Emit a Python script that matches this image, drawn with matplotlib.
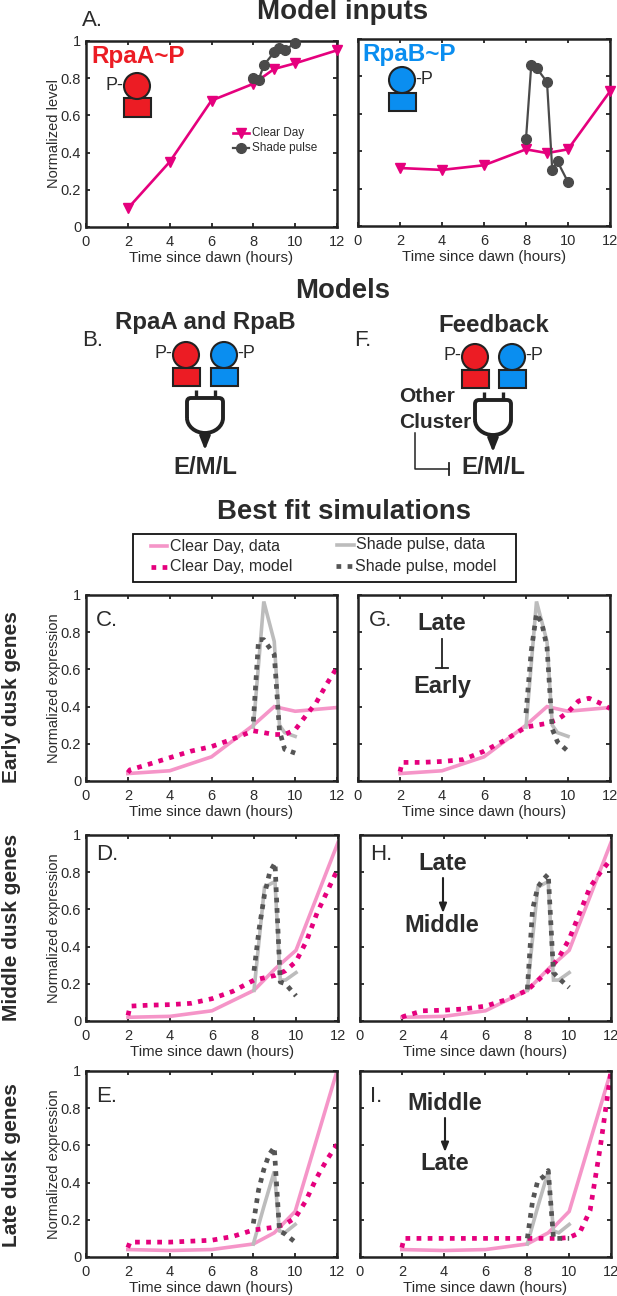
"""Model inputs, model diagrams and best fit simulations for dusk gene clusters."""
import matplotlib
matplotlib.use("Agg")
import matplotlib.pyplot as plt
from matplotlib.patches import Circle, PathPatch, Rectangle
from matplotlib.path import Path

plt.rcParams["font.family"] = ["Liberation Sans", "DejaVu Sans"]

W, H = 617, 1296
INK = "#222222"
TXT = "#2b2b2b"
RED = "#ec1c24"
BLUE = "#0a8ef0"
PINK = "#f595c8"
MAGENTA = "#e5007d"
GREY = "#bcbcbc"
DARK = "#555555"

# ── Model inputs ──────────────────────────────────────────────────────────────
clear_t = [2, 4, 6, 8, 9, 10, 12]
pulse_t = [8, 8.25, 8.5, 9, 9.25, 9.5, 10]
rpaa_clear = [0.10, 0.35, 0.68, 0.77, 0.85, 0.88, 0.95]
rpaa_pulse = [0.80, 0.79, 0.87, 0.94, 0.96, 0.95, 0.99]
rpab_clear = [0.31, 0.30, 0.325, 0.41, 0.39, 0.41, 0.72]
rpab_pulse = [0.465, 0.86, 0.845, 0.77, 0.30, 0.345, 0.235]

# ── Measured expression ───────────────────────────────────────────────────────
pulse_data_t = [8, 8.5, 9, 9.25, 9.5, 10]
early_clear = [0.04, 0.055, 0.13, 0.30, 0.40, 0.375, 0.395]
early_pulse = [0.29, 0.965, 0.75, 0.30, 0.26, 0.24]
middle_clear = [0.02, 0.025, 0.055, 0.165, 0.28, 0.38, 0.96]
middle_pulse = [0.165, 0.72, 0.75, 0.22, 0.22, 0.26]
late_clear = [0.04, 0.035, 0.04, 0.07, 0.13, 0.245, 1.0]
late_pulse = [0.07, 0.27, 0.46, 0.14, 0.13, 0.175]

# ── Simulated expression ──────────────────────────────────────────────────────
model_t = [2, 2.1, 3, 4, 5, 6, 7, 8, 9, 9.5, 10, 10.5, 11, 11.5, 12]
model_pulse_t = [8, 8.25, 8.5, 8.75, 9, 9.25, 9.5, 10]
c_model = [0.045, 0.06, 0.09, 0.125, 0.16, 0.185, 0.225, 0.27, 0.25, 0.25, 0.275, 0.35, 0.42, 0.52, 0.61]
c_pulse = [0.32, 0.76, 0.76, 0.72, 0.68, 0.27, 0.17, 0.15]
g_model = [0.05, 0.10, 0.10, 0.105, 0.115, 0.16, 0.22, 0.29, 0.31, 0.33, 0.37, 0.43, 0.445, 0.42, 0.39]
g_pulse = [0.365, 0.70, 0.90, 0.85, 0.72, 0.28, 0.21, 0.16]
d_model = [0.03, 0.08, 0.085, 0.088, 0.095, 0.12, 0.16, 0.22, 0.245, 0.27, 0.32, 0.43, 0.58, 0.70, 0.82]
d_pulse = [0.27, 0.50, 0.68, 0.80, 0.85, 0.21, 0.20, 0.135]
h_model = [0.02, 0.025, 0.055, 0.058, 0.065, 0.08, 0.115, 0.165, 0.27, 0.34, 0.44, 0.58, 0.72, 0.80, 0.87]
h_pulse = [0.17, 0.60, 0.72, 0.76, 0.79, 0.26, 0.23, 0.18]
e_model = [0.05, 0.08, 0.08, 0.08, 0.085, 0.09, 0.11, 0.145, 0.16, 0.175, 0.21, 0.30, 0.42, 0.52, 0.605]
e_pulse = [0.18, 0.36, 0.47, 0.55, 0.59, 0.14, 0.125, 0.08]
i_model = [0.05, 0.10, 0.10, 0.10, 0.10, 0.10, 0.10, 0.10, 0.10, 0.10, 0.105, 0.13, 0.25, 0.60, 1.0]
i_pulse = [0.10, 0.30, 0.41, 0.43, 0.465, 0.10, 0.10, 0.10]

x_ticks = [0, 2, 4, 6, 8, 10, 12]
y_ticks = [0, 0.2, 0.4, 0.6, 0.8, 1]
y_tick_labels = ["0", "0.2", "0.4", "0.6", "0.8", "1"]

fig = plt.figure(figsize=(W / 100, H / 100), dpi=100)


def make_axes(left, top, right, bottom, ylabel=None):
    ax = fig.add_axes([left / W, 1 - bottom / H, (right - left) / W, (bottom - top) / H])
    ax.set_xlim(0, 12)
    ax.set_ylim(0, 1)
    ax.set_xticks(x_ticks)
    ax.set_yticks(y_ticks)
    ax.set_yticklabels(y_tick_labels if ylabel else [])
    ax.tick_params(direction="in", top=True, right=True, length=3, width=1.3, color=INK,
                   labelsize=10.5, labelcolor=TXT)
    ax.tick_params(axis="x", pad=5.5)
    ax.tick_params(axis="y", pad=3.5)
    for spine in ax.spines.values():
        spine.set_linewidth(1.8)
        spine.set_color(INK)
    ax.set_xlabel("Time since dawn (hours)", fontsize=10.8, color=TXT, labelpad=2)
    if ylabel:
        ax.set_ylabel(ylabel, fontsize=10.5, color=TXT, labelpad=0)
    return ax


def fit_panel(box, ylabel, clear, pulse, model, model_pulse):
    ax = make_axes(*box, ylabel=ylabel)
    ax.plot(clear_t, clear, color=PINK, lw=2.6, solid_joinstyle="miter")
    ax.plot(pulse_data_t, pulse, color=GREY, lw=2.6, solid_joinstyle="miter")
    ax.plot(model_t, model, color=MAGENTA, lw=3.4, ls=(0, (1, 1.35)))
    ax.plot(model_pulse_t, model_pulse, color=DARK, lw=3.4, ls=(0, (1, 1.2)))
    return ax


# ── Panel A ───────────────────────────────────────────────────────────────────
ax_a = make_axes(86, 41, 337, 227, ylabel="Normalized level")
ax_a.plot(clear_t, rpaa_clear, color=MAGENTA, lw=1.9, marker="v", ms=7, clip_on=False, zorder=3)
ax_a.plot(pulse_t, rpaa_pulse, color="#4a4a4a", lw=1.6, marker="o", ms=7, clip_on=False, zorder=4)
ax_b = make_axes(358, 39, 610, 226)
ax_b.plot(clear_t, rpab_clear, color=MAGENTA, lw=1.9, marker="v", ms=7, clip_on=False, zorder=3)
ax_b.plot(pulse_t, rpab_pulse, color="#4a4a4a", lw=1.6, marker="o", ms=7, clip_on=False, zorder=4)

# ── Simulation panels ─────────────────────────────────────────────────────────
fit_panel((86, 595, 337, 781), "Normalized expression", early_clear, early_pulse, c_model, c_pulse)
fit_panel((358, 595, 610, 781), None, early_clear, early_pulse, g_model, g_pulse)
fit_panel((86, 835, 338, 1021), "Normalized expression", middle_clear, middle_pulse, d_model, d_pulse)
fit_panel((360, 835, 611, 1021), None, middle_clear, middle_pulse, h_model, h_pulse)
fit_panel((86, 1071, 337, 1257), "Normalized expression", late_clear, late_pulse, e_model, e_pulse)
fit_panel((360, 1071, 611, 1257), None, late_clear, late_pulse, i_model, i_pulse)

# ── Overlay in pixel coordinates for text and diagrams ────────────────────────
ov = fig.add_axes([0, 0, 1, 1], zorder=10)
ov.set_xlim(0, W)
ov.set_ylim(H, 0)
ov.axis("off")
ov.patch.set_alpha(0)


def label(x, y, s, size=14, weight="normal", color=TXT, ha="center", **kw):
    ov.text(x, y, s, fontsize=size, fontweight=weight, color=color, ha=ha, va="center", **kw)


def protein(cx, cy, color, side=None, r=13, rect_top=13, rect_h=18):
    ov.add_patch(Rectangle((cx - 13.5, cy + rect_top), 27, rect_h, fc=color, ec=INK, lw=1.5))
    ov.add_patch(Circle((cx, cy), r, fc=color, ec=INK, lw=1.5, zorder=3))
    if side == "left":
        label(cx - r - 0.5, cy - 1, "P-", size=13, ha="right")
    elif side == "right":
        label(cx + r + 0.5, cy - 1, "-P", size=13, ha="left")


def and_gate(cx, top):
    for dx in (-9.5, 9.5):
        ov.plot([cx + dx, cx + dx], [top - 8, top], color=INK, lw=2.4, solid_capstyle="butt")
    verts = [
        (cx - 18, top + 20), (cx - 18, top + 4), (cx - 18, top), (cx - 14, top),
        (cx + 14, top), (cx + 18, top), (cx + 18, top + 4), (cx + 18, top + 20),
        (cx + 18, top + 28), (cx + 10, top + 35), (cx, top + 35),
        (cx - 10, top + 35), (cx - 18, top + 28), (cx - 18, top + 20),
    ]
    codes = [Path.MOVETO, Path.LINETO, Path.CURVE3, Path.CURVE3, Path.LINETO, Path.CURVE3, Path.CURVE3,
             Path.LINETO, Path.CURVE4, Path.CURVE4, Path.CURVE4, Path.CURVE4, Path.CURVE4, Path.CURVE4]
    ov.add_patch(PathPatch(Path(verts, codes), fc="none", ec=INK, lw=2.8))
    ov.annotate("", xy=(cx, top + 52), xytext=(cx, top + 35),
                arrowprops=dict(arrowstyle="-|>,head_width=0.32,head_length=0.8", color=INK, lw=2, shrinkA=0, shrinkB=0))


def down_arrow(x, y0, y1):
    ov.annotate("", xy=(x, y1), xytext=(x, y0),
                arrowprops=dict(arrowstyle="-|>,head_width=0.22,head_length=0.55", color=INK, lw=1.5, shrinkA=0, shrinkB=0))


label(343, 12, "Model inputs", size=20, weight="bold")
label(343, 291, "Models", size=19.8, weight="bold")
label(344, 512, "Best fit simulations", size=19.8, weight="bold")
label(82, 20, "A.", size=16, ha="left")
label(82, 340, "B.", size=16, ha="left")
label(354, 340, "F.", size=16, ha="left")
label(96, 620, "C.", size=16, ha="left")
label(369, 620, "G.", size=16, ha="left")
label(96, 855, "D.", size=16, ha="left")
label(370, 855, "H.", size=16, ha="left")
label(96, 1096, "E.", size=16, ha="left")
label(370, 1096, "I.", size=16, ha="left")

# input panel insets
label(91, 57, "RpaA~P", size=17.5, weight="bold", color=RED, ha="left")
label(362, 55, "RpaB~P", size=17.5, weight="bold", color=BLUE, ha="left")
protein(137, 86, RED, side="left", rect_top=12, rect_h=19)
protein(402, 80, BLUE, side="right", rect_top=13, rect_h=18)
ov.plot([233, 249], [133, 133], color=MAGENTA, lw=1.9)
ov.plot([241], [133], color=MAGENTA, marker="v", ms=7)
ov.plot([233, 249], [148, 148], color="#4a4a4a", lw=1.6)
ov.plot([241], [148], color="#4a4a4a", marker="o", ms=7)
label(252, 133, "Clear Day", size=8.5, ha="left")
label(252, 148, "Shade pulse", size=8.5, ha="left")

# model diagrams
label(205, 322, "RpaA and RpaB", size=17.3, weight="bold")
protein(186, 355, RED, side="left")
protein(224, 355, BLUE, side="right")
and_gate(205, 398)
label(205, 467, "E/M/L", size=17.3, weight="bold")

label(494, 325, "Feedback", size=17.3, weight="bold")
protein(475, 357, RED, side="left")
protein(512, 357, BLUE, side="right")
and_gate(493, 400)
label(493, 468, "E/M/L", size=17.3, weight="bold")
label(399, 397, "Other", size=15, weight="bold", ha="left")
label(399, 422, "Cluster", size=15, weight="bold", ha="left")
ov.plot([415, 415, 449], [433, 469, 469], color=INK, lw=1.1)
ov.plot([449, 449], [463, 475], color=INK, lw=1.3)

# legend box
ov.add_patch(Rectangle((133, 534), 383, 48, fc="white", ec="#111111", lw=1.3))
ov.plot([151, 167], [546, 546], color=PINK, lw=2.6)
ov.plot([151, 167], [567, 567], color=MAGENTA, lw=3.4, ls=(0, (1, 1.35)))
ov.plot([337, 354], [545, 545], color=GREY, lw=2.6)
ov.plot([336, 352], [566, 566], color=DARK, lw=3.4, ls=(0, (1, 1.35)))
label(170, 546, "Clear Day, data", size=11.5, ha="left")
label(170, 567, "Clear Day, model", size=11.5, ha="left")
label(356, 545, "Shade pulse, data", size=11.5, ha="left")
label(355, 566, "Shade pulse, model", size=11.5, ha="left")

# row labels
label(12, 697, "Early dusk genes", size=15, weight="bold", rotation=90)
label(12, 927, "Middle dusk genes", size=15, weight="bold", rotation=90)
label(12, 1165, "Late dusk genes", size=15, weight="bold", rotation=90)

# regulation insets
label(442, 624, "Late", size=17, weight="bold")
ov.plot([442, 442], [639, 668], color=INK, lw=1.3)
ov.plot([436, 448], [668, 668], color=INK, lw=1.3)
label(442, 686, "Early", size=17, weight="bold")
label(443, 864, "Late", size=17, weight="bold")
down_arrow(443, 878, 913)
label(442, 926, "Middle", size=17, weight="bold")
label(445, 1103, "Middle", size=17, weight="bold")
down_arrow(445, 1118, 1152)
label(445, 1164, "Late", size=17, weight="bold")

fig.savefig("out.png", dpi=100)
